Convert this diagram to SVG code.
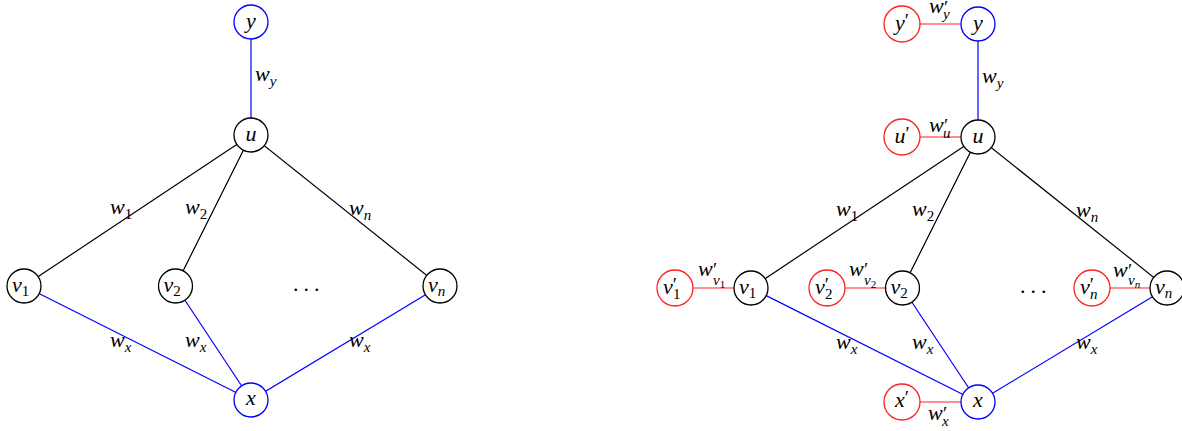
<svg xmlns="http://www.w3.org/2000/svg" width="1182" height="431" viewBox="0 0 1182 431">
<style>
text{font-family:"Liberation Serif","DejaVu Serif",serif;font-style:italic;font-size:22px;fill:#000}
.n{text-anchor:middle}
.s{font-size:15px}
.u{font-style:normal}
.p{font-size:19px;font-style:normal}
.e{stroke-width:1.2;fill:none}
.k{stroke:#000}.b{stroke:#0000ff}.r{stroke:#ff2020}
circle{fill:#fff;stroke-width:1.3}
.cb{stroke:#000}.cbl{stroke:#0000ff}.cr{stroke:#ff2020}
</style>
<rect width="1182" height="431" fill="#fff"/>
<g id="connectors">
<line class="e b" x1="251" y1="22" x2="251" y2="135"/>
<line class="e k" x1="251" y1="135" x2="24" y2="286"/>
<line class="e k" x1="251" y1="135" x2="175.5" y2="286"/>
<line class="e k" x1="251" y1="135" x2="440" y2="286"/>
<line class="e b" x1="24" y1="286" x2="251" y2="400"/>
<line class="e b" x1="175.5" y1="286" x2="251" y2="400"/>
<line class="e b" x1="440" y1="286" x2="251" y2="400"/>
<line class="e b" x1="978" y1="24" x2="978" y2="137"/>
<line class="e k" x1="978" y1="137" x2="751" y2="288"/>
<line class="e k" x1="978" y1="137" x2="902.5" y2="288"/>
<line class="e k" x1="978" y1="137" x2="1167" y2="288"/>
<line class="e b" x1="751" y1="288" x2="978" y2="402"/>
<line class="e b" x1="902.5" y1="288" x2="978" y2="402"/>
<line class="e b" x1="1167" y1="288" x2="978" y2="402"/>
<line class="e r" x1="902" y1="24" x2="978" y2="24"/>
<line class="e r" x1="902" y1="137" x2="978" y2="137"/>
<line class="e r" x1="675" y1="288" x2="751" y2="288"/>
<line class="e r" x1="827" y1="288" x2="902.5" y2="288"/>
<line class="e r" x1="1092" y1="288" x2="1167" y2="288"/>
<line class="e r" x1="902" y1="402" x2="978" y2="402"/>
</g>
<g id="left-y"><circle class="cbl" cx="251" cy="22" r="17"/><text class="n" x="251" y="28">y</text></g>
<g id="left-u"><circle class="cb" cx="251" cy="135" r="17"/><text class="n" x="251" y="141">u</text></g>
<g id="left-v1"><circle class="cb" cx="24" cy="286" r="17"/><text x="12" y="292">v<tspan class="s u" dy="4">1</tspan></text></g>
<g id="left-v2"><circle class="cb" cx="175.5" cy="286" r="17"/><text x="163.5" y="292">v<tspan class="s u" dy="4">2</tspan></text></g>
<g id="left-vn"><circle class="cb" cx="440" cy="286" r="17"/><text x="428" y="292">v<tspan class="s" dy="4">n</tspan></text></g>
<g id="left-x"><circle class="cbl" cx="251" cy="400" r="17"/><text class="n" x="251" y="405">x</text></g>
<g id="left-dots"><text class="u" x="293" y="291" letter-spacing="5">...</text></g>
<g id="left-labels">
<text x="255" y="81">w<tspan class="s" dy="5">y</tspan></text>
<text x="110" y="214">w<tspan class="s u" dy="5">1</tspan></text>
<text x="185" y="214">w<tspan class="s u" dy="5">2</tspan></text>
<text x="349" y="215">w<tspan class="s" dy="5">n</tspan></text>
<text x="110" y="347">w<tspan class="s" dy="5">x</tspan></text>
<text x="185" y="347">w<tspan class="s" dy="5">x</tspan></text>
<text x="349" y="347">w<tspan class="s" dy="5">x</tspan></text>
</g>
<g id="right-y"><circle class="cbl" cx="978" cy="24" r="17"/><text class="n" x="978" y="30">y</text></g>
<g id="right-u"><circle class="cb" cx="978" cy="137" r="17"/><text class="n" x="978" y="143">u</text></g>
<g id="right-v1"><circle class="cb" cx="751" cy="288" r="17"/><text x="739" y="294">v<tspan class="s u" dy="4">1</tspan></text></g>
<g id="right-v2"><circle class="cb" cx="902.5" cy="288" r="17"/><text x="890.5" y="294">v<tspan class="s u" dy="4">2</tspan></text></g>
<g id="right-vn"><circle class="cb" cx="1167" cy="288" r="17"/><text x="1155" y="294">v<tspan class="s" dy="4">n</tspan></text></g>
<g id="right-x"><circle class="cbl" cx="978" cy="402" r="17"/><text class="n" x="978" y="407">x</text></g>
<g id="right-yp"><circle class="cr" cx="902" cy="24" r="18"/><text class="n" x="902" y="30">y<tspan class="p" dy="-3">′</tspan></text></g>
<g id="right-up"><circle class="cr" cx="902" cy="137" r="18"/><text class="n" x="902" y="143">u<tspan class="p" dy="-3">′</tspan></text></g>
<g id="right-v1p"><circle class="cr" cx="675" cy="288" r="18"/><text x="663" y="294">v<tspan class="p" dy="-3">′</tspan></text><text class="s u" x="673" y="299">1</text></g>
<g id="right-v2p"><circle class="cr" cx="827" cy="288" r="18"/><text x="815" y="294">v<tspan class="p" dy="-3">′</tspan></text><text class="s u" x="825" y="299">2</text></g>
<g id="right-vnp"><circle class="cr" cx="1092" cy="288" r="18"/><text x="1080" y="294">v<tspan class="p" dy="-3">′</tspan></text><text class="s" x="1090" y="299">n</text></g>
<g id="right-xp"><circle class="cr" cx="902" cy="402" r="18"/><text class="n" x="902" y="407">x<tspan class="p" dy="-3">′</tspan></text></g>
<g id="right-dots"><text class="u" x="1020" y="293" letter-spacing="5">...</text></g>
<g id="right-labels">
<text x="982" y="83">w<tspan class="s" dy="5">y</tspan></text>
<text x="836" y="216">w<tspan class="s u" dy="5">1</tspan></text>
<text x="912" y="216">w<tspan class="s u" dy="5">2</tspan></text>
<text x="1076" y="217">w<tspan class="s" dy="5">n</tspan></text>
<text x="836" y="349">w<tspan class="s" dy="5">x</tspan></text>
<text x="912" y="349">w<tspan class="s" dy="5">x</tspan></text>
<text x="1076" y="349">w<tspan class="s" dy="5">x</tspan></text>
<text x="929" y="13">w</text><text class="p" x="944" y="14">′</text><text class="s" x="943" y="19">y</text>
<text x="929" y="132">w</text><text class="p" x="944" y="132">′</text><text class="s" x="943" y="138">u</text>
<text x="928" y="420">w</text><text class="p" x="943" y="420">′</text><text class="s" x="942" y="426">x</text>
<text x="698" y="276">w</text><text class="p" x="713" y="276">′</text><text class="s" x="713" y="285">v<tspan class="u" font-size="11" dy="3">1</tspan></text>
<text x="849" y="276">w</text><text class="p" x="864" y="276">′</text><text class="s" x="864" y="285">v<tspan class="u" font-size="11" dy="3">2</tspan></text>
<text x="1113" y="277">w</text><text class="p" x="1128" y="277">′</text><text class="s" x="1128" y="285">v<tspan font-size="11" dy="3">n</tspan></text>
</g>
</svg>
